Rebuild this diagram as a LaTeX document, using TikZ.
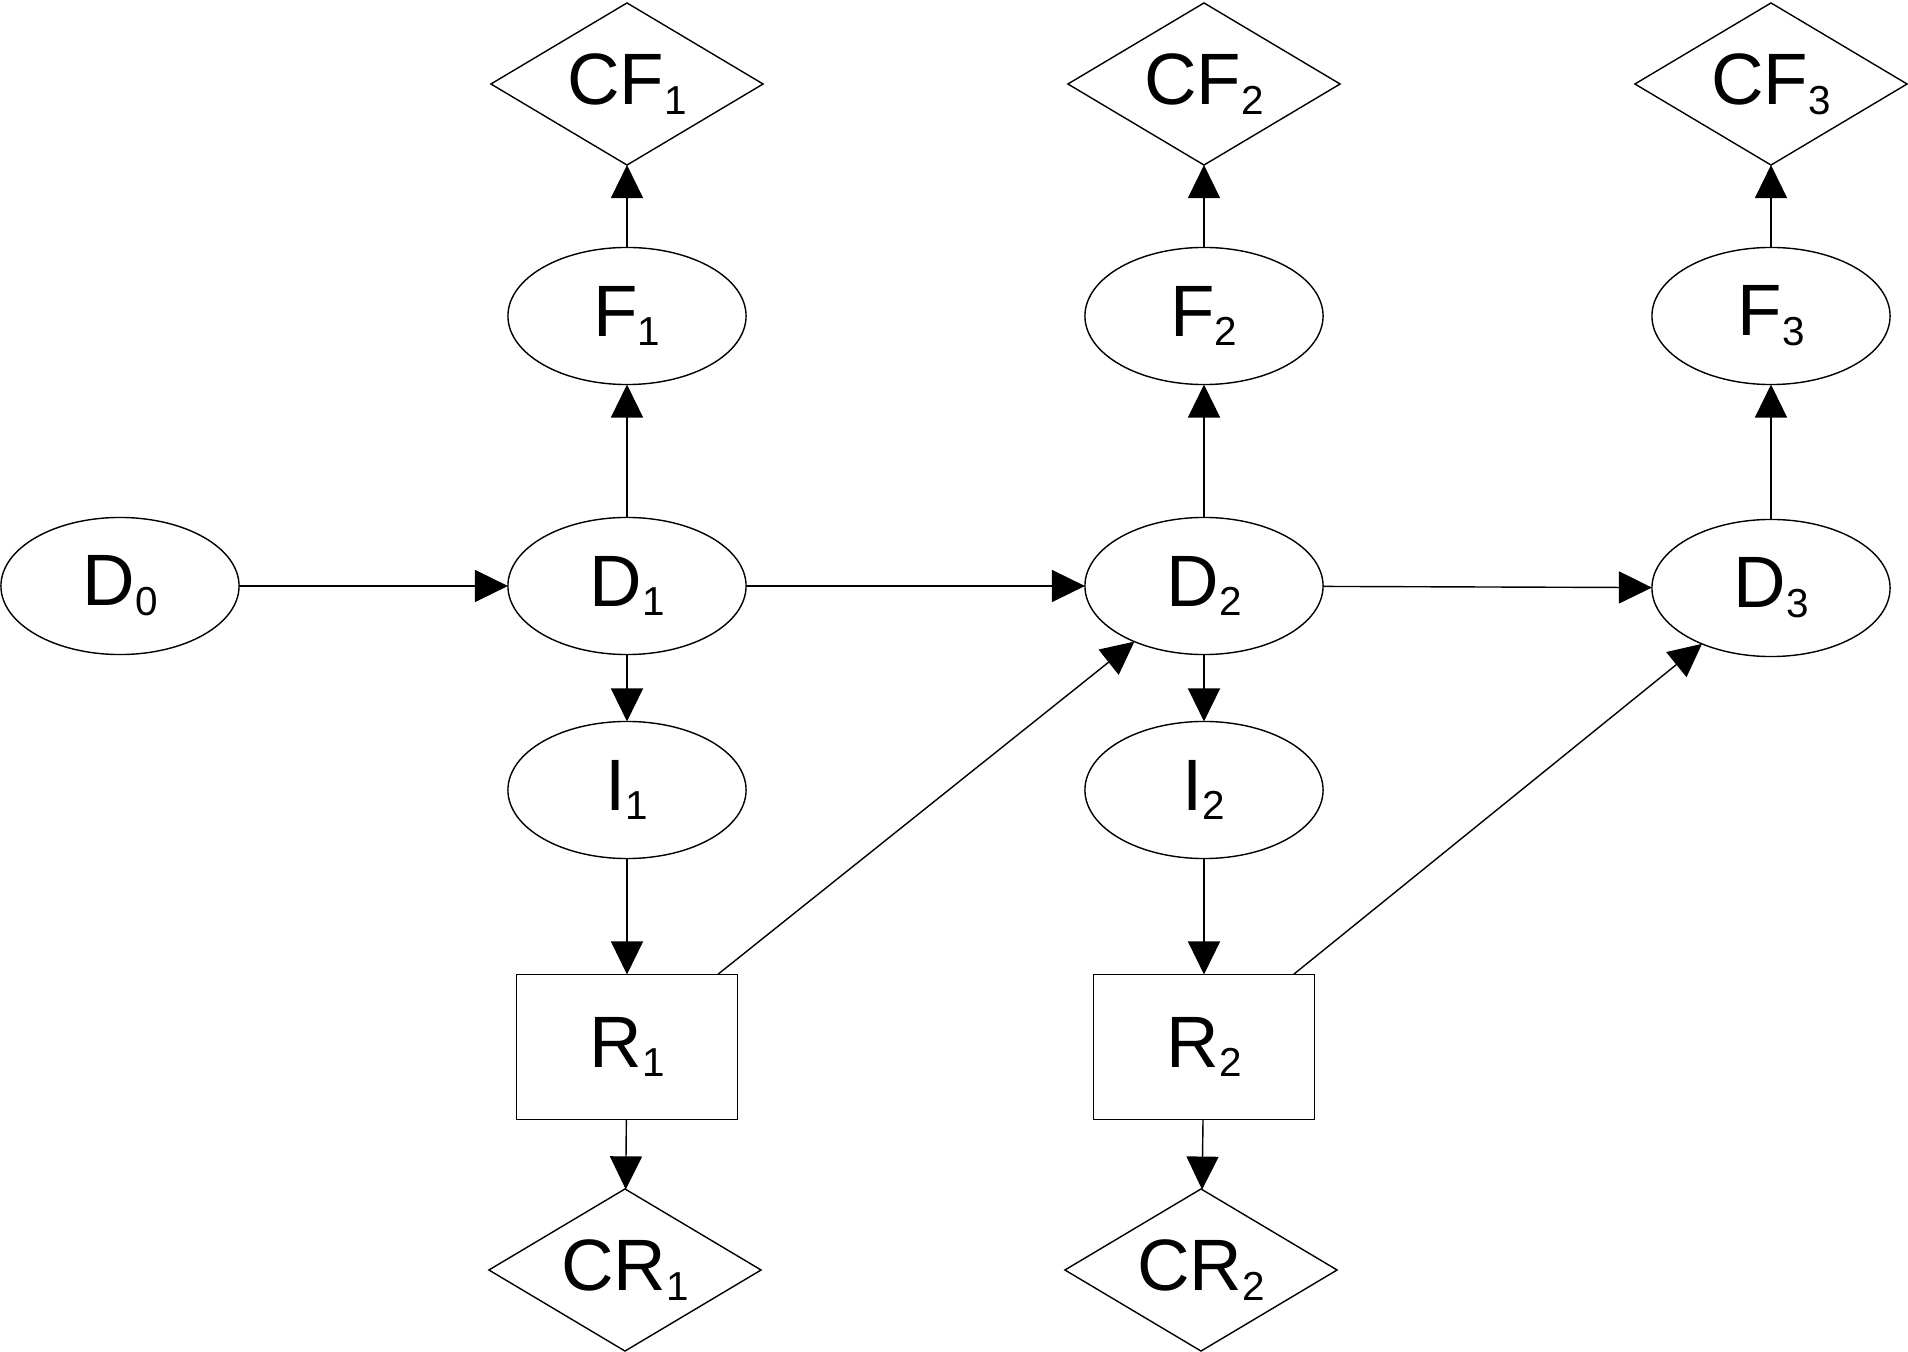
\documentclass[tikz,border=0pt]{standalone}
\usepackage{fontspec}
\setmainfont{Liberation Sans}
\usetikzlibrary{shapes.geometric,arrows.meta}
\newcommand{\lowidx}[1]{\raisebox{-2.8pt}{\fontsize{11.5}{12}\selectfont #1}}
\tikzset{
  base/.style={draw=black, line width=0.4pt},
  lab/.style={font=\fontsize{20.7}{24}\selectfont, inner sep=0pt, outer sep=0pt},
  state/.style={base, lab, ellipse, minimum width=2.38cm, minimum height=1.37cm},
  check/.style={base, lab, diamond, aspect=1.7, minimum width=2.72cm, minimum height=1.62cm},
  repair/.style={base, lab, rectangle, minimum width=2.21cm, minimum height=1.45cm},
  flow/.style={base, -{Triangle[length=0.33cm,width=0.32cm]}}
}
\begin{document}
\begin{tikzpicture}[x=0.01cm, y=-0.01cm]
  \useasboundingbox (0,0) rectangle (1908,1352);
  % main chain
  \node[state] (D0) at (120,586) {D\lowidx{0}};
  \node[state] (D1) at (627,586) {D\lowidx{1}};
  \node[state] (D2) at (1204,586) {D\lowidx{2}};
  \node[state] (D3) at (1771,588) {D\lowidx{3}};
  % upper branch
  \node[state] (F1) at (627,316) {F\lowidx{1}};
  \node[state] (F2) at (1204,316) {F\lowidx{2}};
  \node[state] (F3) at (1771,316) {F\lowidx{3}};
  \node[check] (CF1) at (627,84) {CF\lowidx{1}};
  \node[check] (CF2) at (1204,84) {CF\lowidx{2}};
  \node[check] (CF3) at (1771,84) {CF\lowidx{3}};
  % lower branch
  \node[state] (I1) at (627,790) {I\lowidx{1}};
  \node[state] (I2) at (1204,790) {I\lowidx{2}};
  \node[repair] (R1) at (627,1047) {R\lowidx{1}};
  \node[repair] (R2) at (1204,1047) {R\lowidx{2}};
  \node[check] (CR1) at (625,1270) {CR\lowidx{1}};
  \node[check] (CR2) at (1201,1270) {CR\lowidx{2}};
  % arrows
  \draw[flow] (D0) -- (D1);
  \draw[flow] (D1) -- (D2);
  \draw[flow] (D2) -- (D3);
  \draw[flow] (D1) -- (F1);
  \draw[flow] (D2) -- (F2);
  \draw[flow] (D3) -- (F3);
  \draw[flow] (F1) -- (CF1);
  \draw[flow] (F2) -- (CF2);
  \draw[flow] (F3) -- (CF3);
  \draw[flow] (D1) -- (I1);
  \draw[flow] (D2) -- (I2);
  \draw[flow] (I1) -- (R1);
  \draw[flow] (I2) -- (R2);
  \draw[flow] (R1) -- (CR1);
  \draw[flow] (R2) -- (CR2);
  \draw[flow] (R1) -- (D2);
  \draw[flow] (R2) -- (D3);
\end{tikzpicture}
\end{document}
